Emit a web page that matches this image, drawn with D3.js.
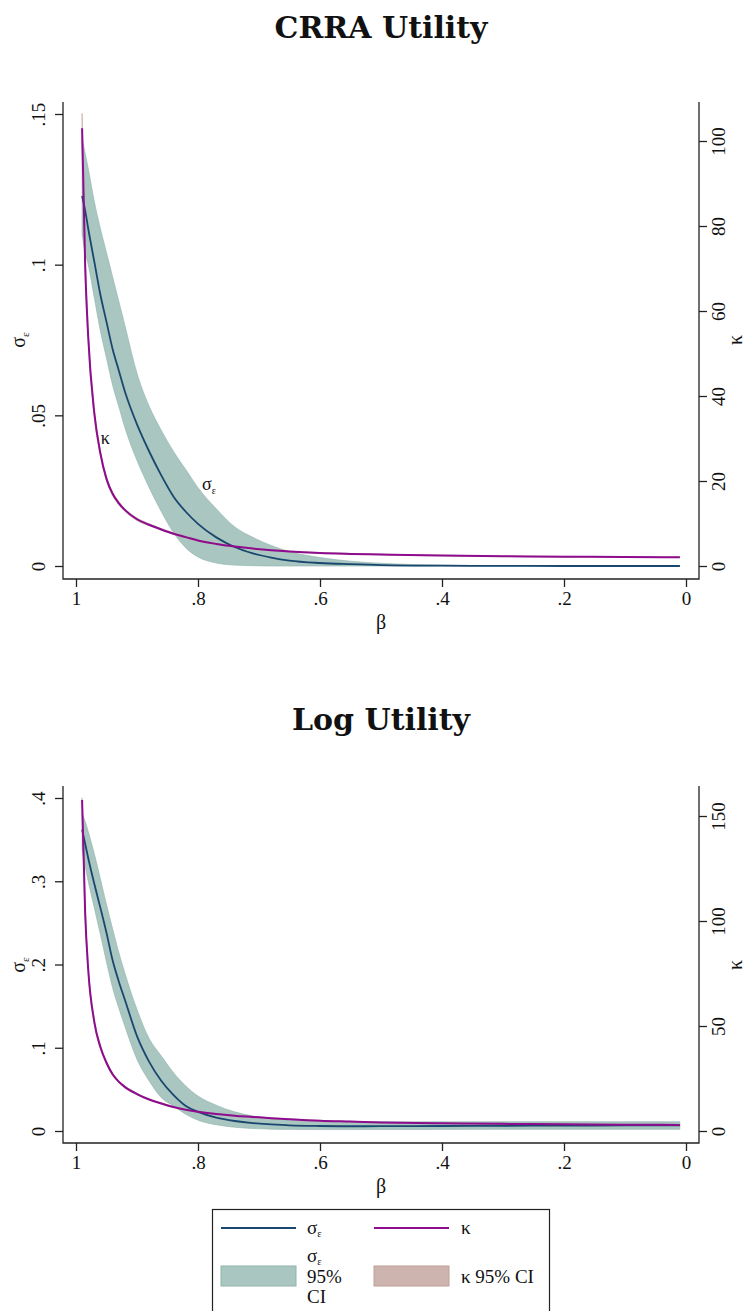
<!DOCTYPE html>
<html>
<head>
<meta charset="UTF-8">
<style>
  body { margin: 0; background: #fff; }
  text { font-family: "Liberation Serif", "Times New Roman", Tinos, Times, serif; fill: #111; }
  .title { font-family: "DejaVu Serif", serif; font-weight: bold; }
</style>
</head>
<body>
<svg id="chart" width="748" height="1311"></svg>
<script src="https://d3js.org/d3.v7.min.js"></script>
<script>
// beta grid (x axis runs from 1 down to 0)
const beta = [0.99, 0.985, 0.98, 0.97, 0.96, 0.95, 0.94, 0.93, 0.92, 0.90, 0.88, 0.86, 0.84, 0.82,
  0.80, 0.77, 0.74, 0.71, 0.68, 0.65, 0.60, 0.55, 0.50, 0.40, 0.30, 0.20, 0.10, 0.01];

// CRRA utility
const crraSigma   = [0.1228, 0.118, 0.112, 0.101, 0.090, 0.081, 0.072, 0.065, 0.058, 0.047, 0.038, 0.030, 0.023, 0.018,
  0.014, 0.0095, 0.0063, 0.0042, 0.0028, 0.0018, 0.0010, 0.0006, 0.0003, 0.0001, 0.00005, 0, 0, 0];
const crraSigmaLo = [0.110, 0.104, 0.100, 0.089, 0.078, 0.069, 0.060, 0.053, 0.046, 0.035, 0.026, 0.018, 0.011, 0.006,
  0.003, 0.001, 0.0003, 0.0001, 0, 0, 0, 0, 0, 0, 0, 0, 0, 0];
const crraSigmaHi = [0.142, 0.137, 0.132, 0.121, 0.112, 0.104, 0.096, 0.088, 0.080, 0.064, 0.053, 0.045, 0.038, 0.032,
  0.026, 0.019, 0.013, 0.0095, 0.0068, 0.0048, 0.0028, 0.0016, 0.0009, 0.0003, 0.0001, 0.00005, 0.00005, 0.00005];
const crraKappa   = [103, 71, 54, 36, 26.5, 20.5, 17, 14.8, 13.2, 11.0, 9.7, 8.6, 7.6, 6.8,
  6.0, 5.2, 4.6, 4.1, 3.7, 3.4, 3.05, 2.85, 2.7, 2.45, 2.3, 2.2, 2.1, 2.05];
const crraKappaLo = [99.5, 68.5, 52.5, 35, 25.8, 20, 16.6, 14.4, 12.9, 10.7, 9.45, 8.4, 7.4, 6.6,
  5.85, 5.05, 4.45, 4.0, 3.6, 3.3, 2.95, 2.75, 2.62, 2.37, 2.23, 2.13, 2.03, 1.98];
const crraKappaHi = [106.5, 73.5, 55.5, 37, 27.2, 21, 17.4, 15.2, 13.5, 11.3, 9.95, 8.8, 7.8, 7.0,
  6.15, 5.35, 4.75, 4.2, 3.8, 3.5, 3.15, 2.95, 2.78, 2.53, 2.37, 2.27, 2.17, 2.12];

// Log utility
const logSigma   = [0.362, 0.345, 0.328, 0.297, 0.268, 0.238, 0.205, 0.180, 0.158, 0.114, 0.083, 0.060, 0.043, 0.030,
  0.023, 0.016, 0.012, 0.0095, 0.008, 0.0068, 0.006, 0.0057, 0.0058, 0.006, 0.0063, 0.0065, 0.0067, 0.0068];
const logSigmaLo = [0.338, 0.318, 0.300, 0.268, 0.236, 0.203, 0.172, 0.148, 0.126, 0.086, 0.060, 0.040, 0.030, 0.020,
  0.013, 0.0075, 0.0045, 0.003, 0.0022, 0.0019, 0.0017, 0.0017, 0.0018, 0.0019, 0.002, 0.002, 0.002, 0.002];
const logSigmaHi = [0.382, 0.372, 0.360, 0.333, 0.303, 0.272, 0.243, 0.215, 0.190, 0.146, 0.111, 0.090, 0.070, 0.054,
  0.042, 0.031, 0.023, 0.018, 0.015, 0.013, 0.0115, 0.011, 0.011, 0.011, 0.0112, 0.0112, 0.0112, 0.0112];
const logKappa   = [157.6, 104, 77, 52, 40, 32.5, 27, 23.5, 21, 17.6, 15.0, 13.1, 11.4, 10.1,
  9.2, 8.1, 7.3, 6.7, 6.1, 5.6, 4.9, 4.5, 4.1, 3.7, 3.4, 3.2, 3.0, 2.9];
const logKappaLo = [153, 101, 75, 50.8, 39, 31.7, 26.4, 23, 20.5, 17.2, 14.7, 12.8, 11.1, 9.9,
  9.0, 7.9, 7.1, 6.5, 5.95, 5.45, 4.75, 4.38, 3.98, 3.6, 3.3, 3.1, 2.9, 2.8];
const logKappaHi = [158.6, 107, 79, 53.2, 41, 33.3, 27.6, 24, 21.5, 18.0, 15.3, 13.4, 11.7, 10.3,
  9.4, 8.3, 7.5, 6.9, 6.25, 5.75, 5.05, 4.62, 4.22, 3.8, 3.5, 3.3, 3.1, 3.0];

// ticks
const betaTicks = [1, 0.8, 0.6, 0.4, 0.2, 0];
const crraSigmaTicks = [0, 0.05, 0.1, 0.15];
const crraKappaTicks = [0, 20, 40, 60, 80, 100];
const logSigmaTicks = [0, 0.1, 0.2, 0.3, 0.4];
const logKappaTicks = [0, 50, 100, 150];

// in-plot labels for the CRRA panel: [beta, sigma]
const crraKappaLabel = [0.952, 0.0425];
const crraSigmaLabel = [0.782, 0.0272];

const navy = "#1a476f", purple = "#8e0c8e";
const sigmaFill = "#a9c6c0", sigmaEdge = "#8fb3ab";
const kappaFill = "#cdb4ae", kappaEdge = "#bf9f98";
const axisColor = "#222";

const svg = d3.select("#chart");

const fmt = d => d === 0 ? "0" : String(d).replace(/^0\./, ".");

function sigmaLabel(sel, size) {
  sel.append("tspan").text("σ");
  sel.append("tspan").attr("font-size", size * 0.55).attr("dy", size * 0.18).text("ε");
}

function drawPanel(p) {
  const x = d3.scaleLinear().domain([1, 0]).range([76, 686]);
  const yL = d3.scaleLinear().domain([0, p.sigmaMax]).range([p.zeroY, p.sigmaTopY]);
  const yR = d3.scaleLinear().domain([0, p.kappaMax]).range([p.zeroY, p.kappaTopY]);
  const g = svg.append("g");

  g.append("text").attr("class", "title")
    .attr("x", 381).attr("y", p.titleY).attr("text-anchor", "middle")
    .attr("font-size", 30).text(p.title);

  const rows = beta.map((b, i) => ({
    b, s: p.sigma[i], sLo: p.sigmaLo[i], sHi: p.sigmaHi[i],
    k: p.kappa[i], kLo: p.kappaLo[i], kHi: p.kappaHi[i]
  }));

  const curve = d3.curveMonotoneX;
  g.append("path").datum(rows)
    .attr("d", d3.area().curve(curve).x(d => x(d.b)).y0(d => yL(d.sLo)).y1(d => yL(d.sHi)))
    .attr("fill", sigmaFill).attr("stroke", sigmaEdge).attr("stroke-width", 0.6);
  g.append("path").datum(rows)
    .attr("d", d3.area().curve(curve).x(d => x(d.b)).y0(d => yR(d.kLo)).y1(d => yR(d.kHi)))
    .attr("fill", kappaFill).attr("stroke", kappaEdge).attr("stroke-width", 0.6);
  g.append("path").datum(rows)
    .attr("d", d3.line().curve(curve).x(d => x(d.b)).y(d => yL(d.s)))
    .attr("fill", "none").attr("stroke", navy).attr("stroke-width", 1.8);
  g.append("path").datum(rows)
    .attr("d", d3.line().curve(curve).x(d => x(d.b)).y(d => yR(d.k)))
    .attr("fill", "none").attr("stroke", purple).attr("stroke-width", 2);

  // axis lines
  const top = p.axisTop, bottom = p.axisBottom;
  g.append("path").attr("d", `M63,${top}V${bottom}H699V${top}`)
    .attr("fill", "none").attr("stroke", axisColor).attr("stroke-width", 1.3);

  const left = g.append("g").attr("transform", "translate(63,0)")
    .call(d3.axisLeft(yL).tickValues(p.sigmaTicks).tickFormat(fmt).tickSize(8).tickSizeOuter(0));
  left.selectAll("text").attr("x", null).attr("dy", null)
    .attr("transform", "translate(-18,0) rotate(-90)").attr("text-anchor", "middle");

  const right = g.append("g").attr("transform", "translate(699,0)")
    .call(d3.axisRight(yR).tickValues(p.kappaTicks).tickFormat(fmt).tickSize(8).tickSizeOuter(0));
  right.selectAll("text").attr("x", null).attr("dy", null)
    .attr("transform", "translate(26,0) rotate(-90)").attr("text-anchor", "middle");

  const bot = g.append("g").attr("transform", `translate(0,${bottom})`)
    .call(d3.axisBottom(x).tickValues(betaTicks).tickFormat(fmt).tickSize(8).tickSizeOuter(0));
  bot.selectAll("text").attr("dy", null).attr("y", 26);

  [left, right, bot].forEach(a => {
    a.select(".domain").remove();
    a.attr("font-family", null);
    a.selectAll("line").attr("stroke", axisColor).attr("stroke-width", 1.3);
    a.selectAll("text").attr("font-size", 19).attr("fill", "#111");
  });

  // axis titles
  g.append("text").attr("x", 381).attr("y", bottom + 50).attr("text-anchor", "middle")
    .attr("font-size", 20).text("β");
  g.append("text").attr("transform", `translate(25,${p.titleMidY}) rotate(-90)`)
    .attr("text-anchor", "middle").attr("font-size", 20).call(sigmaLabel, 20);
  g.append("text").attr("transform", `translate(742,${p.titleMidY}) rotate(-90)`)
    .attr("text-anchor", "middle").attr("font-size", 20).text("κ");

  if (p.labels) {
    g.append("text").attr("x", x(p.labels.kappa[0])).attr("y", yL(p.labels.kappa[1]))
      .attr("text-anchor", "middle").attr("dy", "0.35em").attr("font-size", 18).text("κ");
    g.append("text").attr("x", x(p.labels.sigma[0])).attr("y", yL(p.labels.sigma[1]))
      .attr("text-anchor", "middle").attr("dy", "0.35em").attr("font-size", 18).call(sigmaLabel, 18);
  }
}

drawPanel({
  title: "CRRA Utility", titleY: 38,
  sigma: crraSigma, sigmaLo: crraSigmaLo, sigmaHi: crraSigmaHi,
  kappa: crraKappa, kappaLo: crraKappaLo, kappaHi: crraKappaHi,
  sigmaMax: 0.15, sigmaTopY: 114, kappaMax: 100, kappaTopY: 141, zeroY: 566,
  axisTop: 102, axisBottom: 579, titleMidY: 340,
  sigmaTicks: crraSigmaTicks, kappaTicks: crraKappaTicks,
  labels: { kappa: crraKappaLabel, sigma: crraSigmaLabel }
});

drawPanel({
  title: "Log Utility", titleY: 730,
  sigma: logSigma, sigmaLo: logSigmaLo, sigmaHi: logSigmaHi,
  kappa: logKappa, kappaLo: logKappaLo, kappaHi: logKappaHi,
  sigmaMax: 0.4, sigmaTopY: 798, kappaMax: 150, kappaTopY: 816, zeroY: 1131,
  axisTop: 786, axisBottom: 1143, titleMidY: 965,
  sigmaTicks: logSigmaTicks, kappaTicks: logKappaTicks
});

// legend
const leg = svg.append("g");
leg.append("rect").attr("x", 212.5).attr("y", 1209.5).attr("width", 337).attr("height", 110)
  .attr("fill", "#fff").attr("stroke", axisColor).attr("stroke-width", 1.2);
leg.append("line").attr("x1", 221).attr("x2", 296).attr("y1", 1228).attr("y2", 1228)
  .attr("stroke", navy).attr("stroke-width", 2);
leg.append("text").attr("x", 307).attr("y", 1234).attr("font-size", 19).call(sigmaLabel, 19);
leg.append("line").attr("x1", 374).attr("x2", 449).attr("y1", 1228).attr("y2", 1228)
  .attr("stroke", purple).attr("stroke-width", 2);
leg.append("text").attr("x", 461).attr("y", 1234).attr("font-size", 19).text("κ");
leg.append("rect").attr("x", 221).attr("y", 1266).attr("width", 75).attr("height", 20)
  .attr("fill", sigmaFill).attr("stroke", sigmaEdge).attr("stroke-width", 1);
const ci = leg.append("text").attr("x", 307).attr("y", 1262).attr("font-size", 19);
ci.call(sigmaLabel, 19);
leg.append("text").attr("x", 307).attr("y", 1283).attr("font-size", 19).text("95%");
leg.append("text").attr("x", 307).attr("y", 1303).attr("font-size", 19).text("CI");
leg.append("rect").attr("x", 374).attr("y", 1266).attr("width", 75).attr("height", 20)
  .attr("fill", kappaFill).attr("stroke", kappaEdge).attr("stroke-width", 1);
leg.append("text").attr("x", 461).attr("y", 1283).attr("font-size", 19).text("κ 95% CI");
</script>
</body>
</html>
